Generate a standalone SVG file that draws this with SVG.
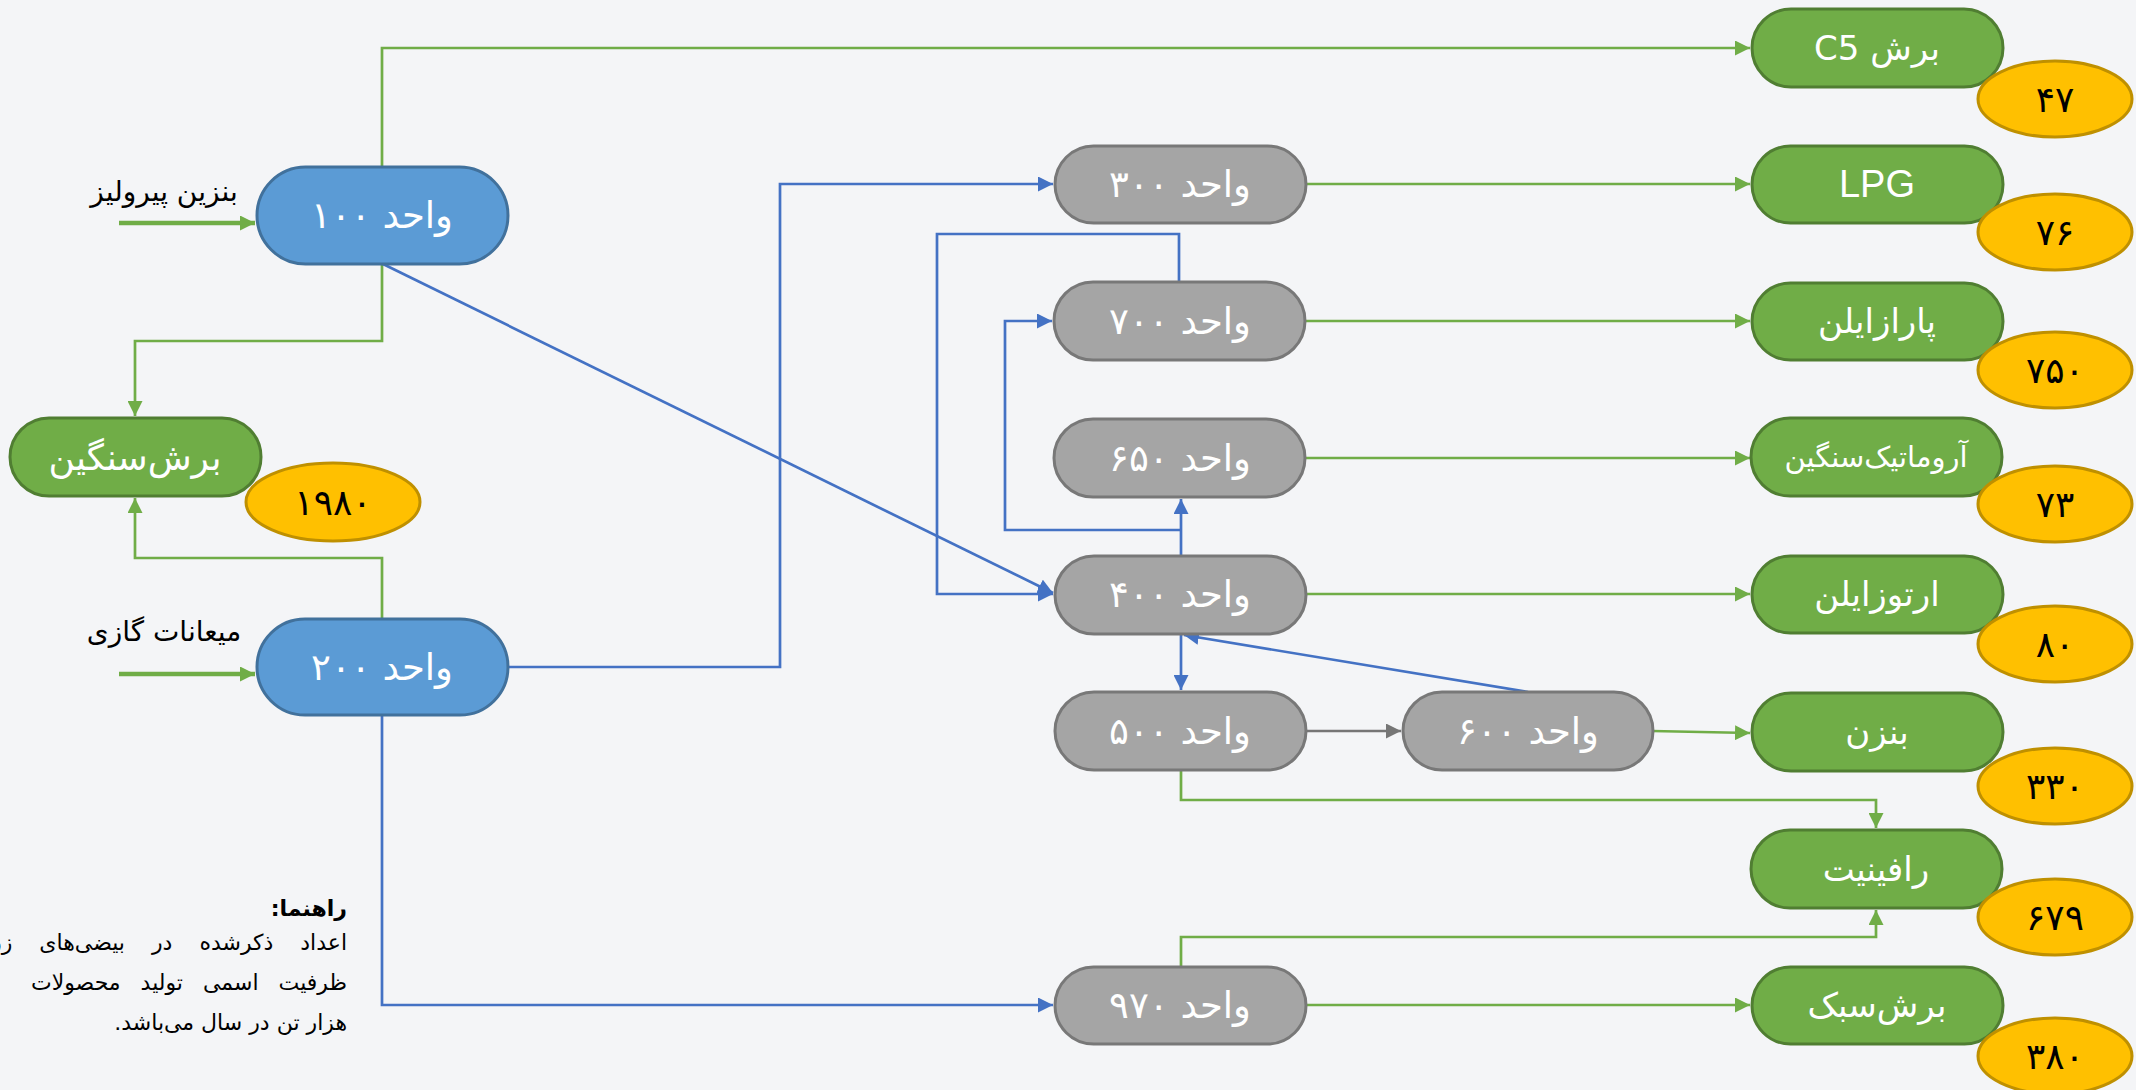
<svg xmlns="http://www.w3.org/2000/svg" width="2136" height="1090" viewBox="0 0 2136 1090">
<style>
.t{font-family:"DejaVu Sans",sans-serif;direction:rtl;text-anchor:middle}
.w{fill:#FFFFFF;font-size:34px}
.u{font-size:37px}
.k{fill:#000000;font-size:36px}
.lab{fill:#000000;font-size:22px;font-family:"DejaVu Sans",sans-serif;direction:rtl;text-anchor:start}
.nb{fill:#5B9BD5;stroke:#41719C;stroke-width:3}
.ng{fill:#A5A5A5;stroke:#787878;stroke-width:3}
.nn{fill:#70AD47;stroke:#507E32;stroke-width:3}
.ny{fill:#FFC000;stroke:#BF9000;stroke-width:3}
.cb{fill:none;stroke:#4472C4;stroke-width:2.7}
.cg{fill:none;stroke:#70AD47;stroke-width:2.7}
.cgr{fill:none;stroke:#767676;stroke-width:2.7}
.ci{fill:none;stroke:#70AD47;stroke-width:4.5}
</style>
<defs>
<marker id="ab" viewBox="0 0 10 10" refX="10" refY="5" markerWidth="15" markerHeight="15" markerUnits="userSpaceOnUse" orient="auto"><path d="M0,0 L10,5 L0,10 z" fill="#4472C4"/></marker>
<marker id="ag" viewBox="0 0 10 10" refX="10" refY="5" markerWidth="15" markerHeight="15" markerUnits="userSpaceOnUse" orient="auto"><path d="M0,0 L10,5 L0,10 z" fill="#70AD47"/></marker>
<marker id="ai" viewBox="0 0 10 10" refX="10" refY="5" markerWidth="15" markerHeight="15" markerUnits="userSpaceOnUse" orient="auto"><path d="M0,0 L10,5 L0,10 z" fill="#70AD47"/></marker>
<marker id="ay" viewBox="0 0 10 10" refX="10" refY="5" markerWidth="15" markerHeight="15" markerUnits="userSpaceOnUse" orient="auto"><path d="M0,0 L10,5 L0,10 z" fill="#767676"/></marker>
</defs>
<rect x="0" y="0" width="2136" height="1090" fill="#F4F5F7"/>

<g id="connectors">
<path class="cg" d="M382,167 V48 H1750" marker-end="url(#ag)"/>
<path class="cg" d="M382,264 V341 H135 V416" marker-end="url(#ag)"/>
<path class="cg" d="M382,619 V558 H135 V498" marker-end="url(#ag)"/>
<path class="cg" d="M1306,184 H1750" marker-end="url(#ag)"/>
<path class="cg" d="M1306,321 H1750" marker-end="url(#ag)"/>
<path class="cg" d="M1306,458 H1750" marker-end="url(#ag)"/>
<path class="cg" d="M1306,594 H1750" marker-end="url(#ag)"/>
<path class="cg" d="M1652,731 L1750,733" marker-end="url(#ag)"/>
<path class="cg" d="M1306,1005 H1750" marker-end="url(#ag)"/>
<path class="cg" d="M1181,770 V800 H1876 V828" marker-end="url(#ag)"/>
<path class="cg" d="M1181,967 V937 H1876 V910" marker-end="url(#ag)"/>
<path class="ci" d="M119,223 H255" marker-end="url(#ai)"/>
<path class="ci" d="M119,674 H255" marker-end="url(#ai)"/>
<path class="cb" d="M383,264 L1053,593" marker-end="url(#ab)"/>
<path class="cb" d="M508,667 H780 V184 H1053" marker-end="url(#ab)"/>
<path class="cb" d="M1179,282 V234 H937 V594 H1053" marker-end="url(#ab)"/>
<path class="cb" d="M1181,556 V499" marker-end="url(#ab)"/>
<path class="cb" d="M1181,530 H1005 V321 H1052" marker-end="url(#ab)"/>
<path class="cb" d="M1181,633 V690" marker-end="url(#ab)"/>
<path class="cb" d="M1528,692 L1184,635" marker-end="url(#ab)"/>
<path class="cb" d="M382,715 V1005 H1053" marker-end="url(#ab)"/>
<path class="cgr" d="M1306,731 H1401" marker-end="url(#ay)"/>
</g>

<g id="label-pyrolysis"><text class="t" x="164" y="201" fill="#000000" style="font-size:28px">بنزین پیرولیز</text></g>
<g id="label-condensate"><text class="t" x="164" y="641" fill="#000000" style="font-size:28px">میعانات گازی</text></g>

<g id="unit100"><rect class="nb" x="257" y="167" width="251" height="97" rx="48.5"/><text class="t w u" x="382" y="228">واحد ۱۰۰</text></g>
<g id="unit200"><rect class="nb" x="257" y="619" width="251" height="96" rx="48"/><text class="t w u" x="382" y="680">واحد ۲۰۰</text></g>

<g id="heavy-cut"><rect class="nn" x="10" y="418" width="251" height="78" rx="39"/><text class="t w" x="135" y="470" style="font-size:36px">برش‌سنگین</text></g>
<g id="cap-1980"><ellipse class="ny" cx="333" cy="502" rx="87" ry="39"/><text class="t k" x="333" y="515">۱۹۸۰</text></g>

<g id="unit300"><rect class="ng" x="1055" y="146" width="251" height="77" rx="38.5"/><text class="t w u" x="1180" y="197">واحد ۳۰۰</text></g>
<g id="unit700"><rect class="ng" x="1054" y="282" width="251" height="78" rx="39"/><text class="t w u" x="1180" y="334">واحد ۷۰۰</text></g>
<g id="unit650"><rect class="ng" x="1054" y="419" width="251" height="78" rx="39"/><text class="t w u" x="1180" y="471">واحد ۶۵۰</text></g>
<g id="unit400"><rect class="ng" x="1055" y="556" width="251" height="78" rx="39"/><text class="t w u" x="1180" y="607">واحد ۴۰۰</text></g>
<g id="unit500"><rect class="ng" x="1055" y="692" width="251" height="78" rx="39"/><text class="t w u" x="1180" y="744">واحد ۵۰۰</text></g>
<g id="unit600"><rect class="ng" x="1403" y="692" width="250" height="78" rx="39"/><text class="t w u" x="1528" y="744">واحد ۶۰۰</text></g>
<g id="unit970"><rect class="ng" x="1055" y="967" width="251" height="77" rx="38.5"/><text class="t w u" x="1180" y="1018">واحد ۹۷۰</text></g>

<g id="c5"><rect class="nn" x="1752" y="9" width="251" height="78" rx="39"/><text class="t w" x="1877" y="60">برش C5</text></g>
<g id="cap-47"><ellipse class="ny" cx="2055" cy="99" rx="77" ry="38"/><text class="t k" x="2055" y="112">۴۷</text></g>
<g id="lpg"><rect class="nn" x="1752" y="146" width="251" height="77" rx="38.5"/><text x="1877" y="197" fill="#FFFFFF" text-anchor="middle" style="font-family:'Liberation Sans',sans-serif;font-size:38px">LPG</text></g>
<g id="cap-76"><ellipse class="ny" cx="2055" cy="232" rx="77" ry="38"/><text class="t k" x="2055" y="245">۷۶</text></g>
<g id="paraxylene"><rect class="nn" x="1752" y="283" width="251" height="77" rx="38.5"/><text class="t w" x="1877" y="333">پارازایلن</text></g>
<g id="cap-750"><ellipse class="ny" cx="2055" cy="370" rx="77" ry="38"/><text class="t k" x="2055" y="383">۷۵۰</text></g>
<g id="heavy-aromatics"><rect class="nn" x="1751" y="418" width="251" height="78" rx="39"/><text class="t w" x="1876" y="467" style="font-size:29px">آروماتیک‌سنگین</text></g>
<g id="cap-73"><ellipse class="ny" cx="2055" cy="504" rx="77" ry="38"/><text class="t k" x="2055" y="517">۷۳</text></g>
<g id="orthoxylene"><rect class="nn" x="1752" y="556" width="251" height="77" rx="38.5"/><text class="t w" x="1877" y="606">ارتوزایلن</text></g>
<g id="cap-80"><ellipse class="ny" cx="2055" cy="644" rx="77" ry="38"/><text class="t k" x="2055" y="657">۸۰</text></g>
<g id="benzene"><rect class="nn" x="1752" y="693" width="251" height="78" rx="39"/><text class="t w" x="1877" y="744">بنزن</text></g>
<g id="cap-330"><ellipse class="ny" cx="2055" cy="786" rx="77" ry="38"/><text class="t k" x="2055" y="799">۳۳۰</text></g>
<g id="raffinate"><rect class="nn" x="1751" y="830" width="251" height="78" rx="39"/><text class="t w" x="1876" y="881">رافینیت</text></g>
<g id="cap-679"><ellipse class="ny" cx="2055" cy="917" rx="77" ry="38"/><text class="t k" x="2055" y="930">۶۷۹</text></g>
<g id="light-cut"><rect class="nn" x="1752" y="967" width="251" height="77" rx="38.5"/><text class="t w" x="1877" y="1017">برش‌سبک</text></g>
<g id="cap-380"><ellipse class="ny" cx="2055" cy="1056" rx="77" ry="38"/><text class="t k" x="2055" y="1069">۳۸۰</text></g>

<g id="legend">
<text class="lab" x="347" y="916" font-weight="bold">راهنما:</text>
<text class="lab" x="347" y="950" word-spacing="20">اعداد ذکرشده در بیضی‌های زرد</text>
<text class="lab" x="347" y="990" word-spacing="13">ظرفیت اسمی تولید محصولات</text>
<text class="lab" x="347" y="1030">هزار تن در سال می‌باشد.</text>
</g>
</svg>
